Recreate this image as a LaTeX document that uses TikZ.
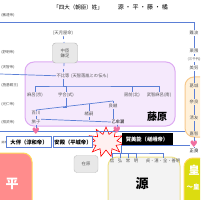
\documentclass[tikz,border=0pt]{standalone}
\usepackage{fontspec}
\setmainfont{Noto Sans CJK JP}
\newfontfamily\symfont{DejaVu Sans}
\usetikzlibrary{shapes.symbols,positioning}
\definecolor{LineBlue}{HTML}{5B7FD6}
\definecolor{FujiFill}{HTML}{F5E9FC}
\definecolor{FujiEdge}{HTML}{DDAAF2}
\definecolor{TachiFill}{HTML}{FFF1DA}
\definecolor{TachiEdge}{HTML}{F7C98C}
\definecolor{TairaFill}{HTML}{FF8C8C}
\definecolor{EdgeYellow}{HTML}{FFD95A}
\definecolor{GenFill}{HTML}{F3F3F3}
\definecolor{GenEdge}{HTML}{EEE28C}
\definecolor{KouFill}{HTML}{DCDC10}
\definecolor{HeartPink}{HTML}{F06FA0}
\definecolor{NameGray}{HTML}{555555}

\begin{document}
\begin{tikzpicture}[x=1pt,y=-1pt,
    person/.style={font=\fontsize{4.3}{5}\selectfont, text=NameGray, inner sep=0.6pt},
    sidelbl/.style={person, font=\fontsize{3.6}{4}\selectfont, anchor=west},
    link/.style={draw=LineBlue, line width=0.7pt},
    emperor/.style={draw=LineBlue, fill=white, line width=0.5pt, font=\fontsize{5.3}{6}\selectfont\bfseries, minimum height=11pt, inner sep=1pt},
    region/.style={rounded corners=9pt, line width=1pt},
    bigtext/.style={font=\fontsize{13}{13}\selectfont\bfseries},
    heart/.style={font=\symfont\fontsize{9}{9}\selectfont, text=HeartPink, inner sep=0pt}
  ]
    \clip (0,0) rectangle (200,200);
    \fill[white] (0,0) rectangle (200,200);

    % coloured regions
    \node[region, draw=FujiEdge, fill=FujiFill, minimum width=150pt, minimum height=64pt] (fujibox) at (100,94) {};
    \node[region, draw=TachiEdge, fill=TachiFill, minimum width=40pt, minimum height=60pt] (tachibox) at (205,107) {};
    \node[region, draw=EdgeYellow, fill=TairaFill, minimum width=60pt, minimum height=60pt] (tairabox) at (2,183) {};
    \node[region, draw=GenEdge, fill=GenFill, minimum width=72pt, minimum height=56pt] (genbox) at (144,185) {};
    \node[region, draw=EdgeYellow, fill=KouFill, minimum width=40pt, minimum height=50pt] (koubox) at (204,183) {};

    % title
    \node[font=\fontsize{5.5}{6}\selectfont] (title) at (78,7) {「四大（朝臣）姓」};
    \node[font=\fontsize{6}{6}\selectfont, right=8pt of title] (clans) {源 ・ 平 ・ 藤 ・ 橘};

    % emperors on the left edge
    \node[sidelbl] (bidatsu) at (0.5,15) {(敏達帝)};
    \node[sidelbl] (jomei) at (0.5,52) {(舒明帝)};
    \node[sidelbl] (tenji) at (0.5,67) {(天智帝)};
    \node[sidelbl] (shiki) at (0.5,85) {(施基親王)};
    \node[sidelbl] (konin) at (0.5,104) {(光仁帝)};
    \node[sidelbl] (kanmu) at (0.5,122) {(桓武帝)};
    \node[sidelbl, font=\fontsize{2.6}{3}\selectfont] (kazurahara) at (0.2,143) {(葛原王)};
    \coordinate (topline) at (0,22);
    \coordinate (tenjiline) at (0,74);
    \coordinate (kanmuline) at (0,131);
    \coordinate (kanmuend) at (185,131);

    % Fujiwara
    \node[person] (ameno) at (63,33) {(天児屋命)};
    \node[draw=gray!60, fill=gray!18, rounded corners=3pt, minimum width=25pt, minimum height=20pt, person, align=center] (nakatomi) at (65,53) {中臣\\鎌足};
    \node[person] (fuhito) at (63,76) {不比等};
    \node[person, right=0pt of fuhito] (fuhitonote) {(天智落胤との伝も)};
    \node[person] (maro) at (35,95) {麻呂(京)};
    \node[person] (umakai) at (66,95) {宇合(式)};
    \node[person] (fusasaki) at (132,95) {房前(北)};
    \node[person] (muchimaro) at (159,95) {武智麻呂(南)};
    \node[person] (yoshitsugu) at (113,106) {良継};
    \node[person] (momokawa) at (36,113) {百川};
    \node[person] (otsugu) at (89,114) {緒嗣};
    \node[person] (tabiko) at (36,122) {旅子};
    \node[person, text=black] (otomuro) at (118,122) {乙牟漏};
    \node[bigtext, font=\fontsize{10}{10}\selectfont\bfseries] (fujilabel) at (157,117) {藤原};
    \coordinate (fork) at (63,86);
    \coordinate (uleft) at (36,110);
    \coordinate (uright) at (113,101);
    \coordinate (ujoin) at (63,107);
    \coordinate (ojoin) at (89,104.3);
    \coordinate (olow) at (89,120);

    % Tachibana
    \node[person] (naniwa) at (194,33) {難波};
    \node[person] (kurikuma) at (194,51) {栗隈};
    \node[person] (minu) at (194,68) {美努};
    \node[person, fill=white, font=\fontsize{3.5}{4}\selectfont] (michiyo) at (194,59) {(三千代)};
    \node[person] (kazuraki) at (194,86) {葛城};
    \node[person] (nara) at (194,102) {奈良};
    \node[person] (kiyotomo) at (194,118) {清友};
    \node[person] (kachi) at (194,134) {嘉智};
    \node[person, text=black] (masara) at (194,151) {正良};

    % emperors of the bottom row
    \node[starburst, draw=red, fill=red!6, line width=0.6pt, random starburst=0, starburst points=11, starburst point height=7pt, minimum width=36pt, minimum height=30pt] (burst) at (106,142) {};
    \node[emperor, minimum width=45pt] (otomo) at (29,142) {大伴（淳和帝）};
    \node[emperor, minimum width=38pt] (ate) at (73,142) {安殿（平城帝）};
    \node[emperor, draw=black, fill=black, text=white, minimum width=50pt, minimum height=12pt] (kamino) at (147,139) {賀美能（嵯峨帝）};
    \node[draw=gray!50, fill=gray!18, rounded corners=3pt, minimum width=24pt, minimum height=17pt, person] (ariwara) at (86,164) {在原};

    % Minamoto
    \node[person] (makoto) at (112,161) {信};
    \node[person] (hiromu) at (120,161) {弘};
    \node[person] (tokiwa) at (128,161) {常};
    \node[person] (akira) at (136,161) {明};
    \node[person] (others) at (163,161) {貞・湛・全・善明};
    \coordinate (gfork) at (136,153);

    % big clan names
    \node[bigtext, text=white] (tairalabel) at (12,184) {平};
    \node[bigtext] (genlabel) at (142,184) {源};
    \node[bigtext, font=\fontsize{11}{11}\selectfont\bfseries, text=white] (koulabel) at (194,170) {皇};
    \node[bigtext, font=\fontsize{6.5}{7}\selectfont\bfseries, text=white] (koulabel2) at (193,187) {〜皇};

    % connectors
    \draw[link] (topline) -| (naniwa);
    \draw[link] (naniwa) -- (kurikuma);
    \draw[link] (kurikuma) -- (michiyo);
    \draw[link] (michiyo) -- (minu);
    \draw[link] (minu) -- (kazuraki);
    \draw[link] (kazuraki) -- (nara);
    \draw[link] (nara) -- (kiyotomo);
    \draw[link] (kiyotomo) -- (kachi);

    \draw[link, dashed] (ameno) -- (nakatomi);
    \draw[link, dashed] (nakatomi) -- (fuhito);
    \draw[link] (tenjiline) -- (fuhito);
    \draw[link] (fuhito) -- (fork);
    \draw[link] (maro) |- (fork) -| (muchimaro);
    \draw[link] (fork) -| (umakai);
    \draw[link] (fusasaki) -- (fusasaki |- fork);
    \draw[link] (umakai) |- (ujoin);
    \draw[link] (uleft) -- (uright);
    \draw[link] (uleft) -- (momokawa);
    \draw[link] (uright) -- (yoshitsugu);
    \draw[link] (ojoin) -- (otsugu);
    \draw[link] (momokawa) -- (tabiko);
    \draw[link] (tabiko.north east) -- (otomuro.west);
    \draw[link] (otsugu) -- (olow);
    \draw[link] (yoshitsugu) -- (yoshitsugu |- otomuro.north);

    \draw[link] (kanmuline) -- (kanmuend);
    \node[heart] (h1) at (36,131) {♥};
    \node[heart] (h2) at (117,130) {♥};
    \node[heart] (h3) at (194,144) {♥};
    \draw[link] (tabiko) -- (h1);
    \draw[link] (otomuro) -- (h2);
    \draw[link] (kachi) -- (h3);
    \draw[link] (h3) -- (masara);
    \draw[link] (kamino.south west) -- (kamino.south west -| h3.west);
    \draw[link] (kamino.south west) |- (gfork);
    \draw[link] (makoto) |- (gfork) -| (others);
    \foreach \kid in {hiromu,tokiwa,akira}
      \draw[link] (\kid) -- (\kid |- gfork);
\end{tikzpicture}
\end{document}
